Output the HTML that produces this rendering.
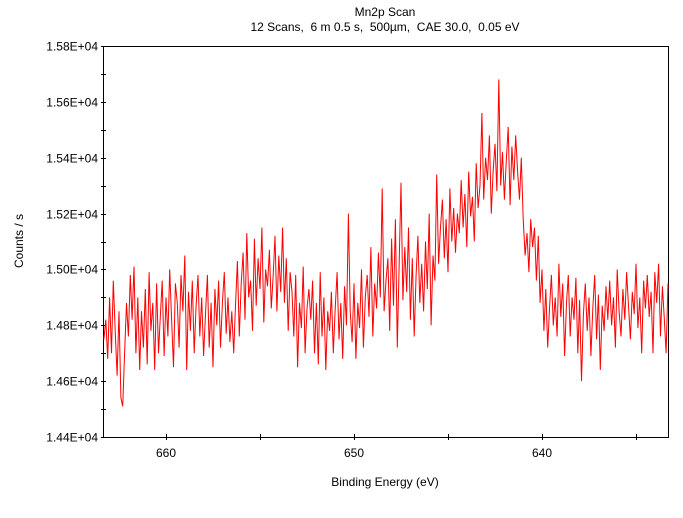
<!DOCTYPE html>
<html><head><meta charset="utf-8"><style>
body{margin:0;background:#fff}
svg text{font-family:"Liberation Sans",sans-serif;font-size:12px;fill:#000;white-space:pre}
</style></head><body>
<svg id="chart" width="683" height="513" xmlns="http://www.w3.org/2000/svg">
<text x="385" y="16" text-anchor="middle">Mn2p Scan</text>
<text x="385" y="31" text-anchor="middle" xml:space="preserve">12 Scans,  6 m 0.5 s,  500µm,  CAE 30.0,  0.05 eV</text>
<text x="385" y="486" text-anchor="middle">Binding Energy (eV)</text>
<text transform="translate(23,241) rotate(-90)" text-anchor="middle">Counts / s</text>
<g id="axes"></g>
<g id="plot"></g>
</svg>
<script>
const yTicks=[14400,14600,14800,15000,15200,15400,15600,15800];
const yTickLabels=["1.44E+04","1.46E+04","1.48E+04","1.50E+04","1.52E+04","1.54E+04","1.56E+04","1.58E+04"];
const xTicks=[660,650,640];
const xStart=663.3, xStep=0.1;
const counts=[
14750,14820,14680,14900,14700,14960,14780,14620,14850,14540,
14510,14700,14880,14760,14980,14820,15010,14700,14900,14640,
14850,14720,14930,14660,14990,14780,14880,14640,14950,14700,
14830,14960,14690,14900,14760,15000,14820,14650,14950,14880,
14720,14980,14850,15050,14640,14920,14780,14960,14700,14870,
14980,14760,14900,14690,14840,14980,14720,14880,14650,14930,
14800,14960,14720,14880,14990,14770,14900,14740,14850,14700,
14880,15030,14760,14950,15060,14820,15130,14900,14960,14780,
15110,14870,15040,14930,15150,14810,15000,14940,15070,14860,
14980,15120,14850,15050,14920,15150,14880,15040,14780,14990,
14920,14760,14980,14650,14880,14790,15010,14700,14860,14930,
14820,14960,14700,14880,14660,14990,14760,14900,14640,14850,
14780,14920,14700,14860,14990,14750,14880,14680,14940,14800,
15200,14850,14740,14950,14680,14880,14790,15000,14720,14900,
14980,14830,15080,14760,14950,14860,15060,14900,15290,14850,
14960,15040,14780,15110,14870,15180,14720,15010,15310,14890,
15080,14920,15150,14820,15040,14760,14980,15120,14880,15020,
14850,15100,14930,15200,14800,15050,14960,15340,15020,15150,
15250,15040,15180,14990,15290,15100,15220,15060,15200,15130,
15320,15150,15270,15080,15350,15190,15260,15100,15380,15220,
15300,15560,15250,15400,15320,15480,15200,15350,15450,15280,
15680,15300,15420,15250,15390,15510,15230,15440,15320,15480,
15350,15250,15400,15180,15050,15130,14990,15180,15080,15150,
14960,15120,14880,15000,14780,14930,14720,14860,14980,14800,
14900,14760,15020,14830,14950,14690,14880,14980,14760,14900,
14820,14970,14700,14890,14600,14840,14950,14780,14900,14690,
14860,14980,14750,14910,14640,14870,14780,14940,14820,14960,
14800,14900,14720,15000,14850,14760,14930,14820,14990,14870,
14750,14920,14840,15020,14790,14900,14700,14960,14860,14980,
14830,14920,14700,14990,14880,15020,14760,14940,14830,14700,14950];
const L=103,R=668,T=46,B=437;
const xMin=633.3,xMax=663.35,yMin=14400,yMax=15800;
function xs(v){return L+(xMax-v)/(xMax-xMin)*(R-L);}
function ys(v){return B-(v-yMin)/(yMax-yMin)*(B-T);}
const NS="http://www.w3.org/2000/svg";
const axes=document.getElementById('axes'),plot=document.getElementById('plot');
function mk(tag,attrs,parent){const e=document.createElementNS(NS,tag);for(const k in attrs)e.setAttribute(k,attrs[k]);parent.appendChild(e);return e;}
const pts=counts.map((c,i)=>xs(xStart-i*xStep).toFixed(1)+','+ys(c).toFixed(1)).join(' ');
const pl=mk('polyline',{points:pts,fill:'none',stroke:'#f00','stroke-width':1},plot);


let fr=mk('rect',{x:L+0.5,y:T+0.5,width:R-L,height:B-T,fill:'none',stroke:'#000','stroke-width':1},axes);


for(let v=yMin;v<=yMax;v+=100){
  const y=Math.round(ys(v))+0.5;
  const t=mk('line',{x1:L-2,x2:L+3,y1:y,y2:y,stroke:'#000'},axes);
  
  
}
yTicks.forEach((v,i)=>{
  const y=Math.round(ys(v))+0.5;
  const lb=mk('text',{x:L-5,y:y+4,'text-anchor':'end'},axes);lb.textContent=yTickLabels[i];
  
  
});
for(let v=635;v<=660;v+=5){
  const x=Math.round(xs(v))+0.5;
  const t=mk('line',{x1:x,x2:x,y1:B-3,y2:B+3,stroke:'#000'},axes);
  
  
}
xTicks.forEach(v=>{
  const lb=mk('text',{x:xs(v),y:B+20,'text-anchor':'middle'},axes);lb.textContent=v;
  
  
});
</script>
</body></html>
